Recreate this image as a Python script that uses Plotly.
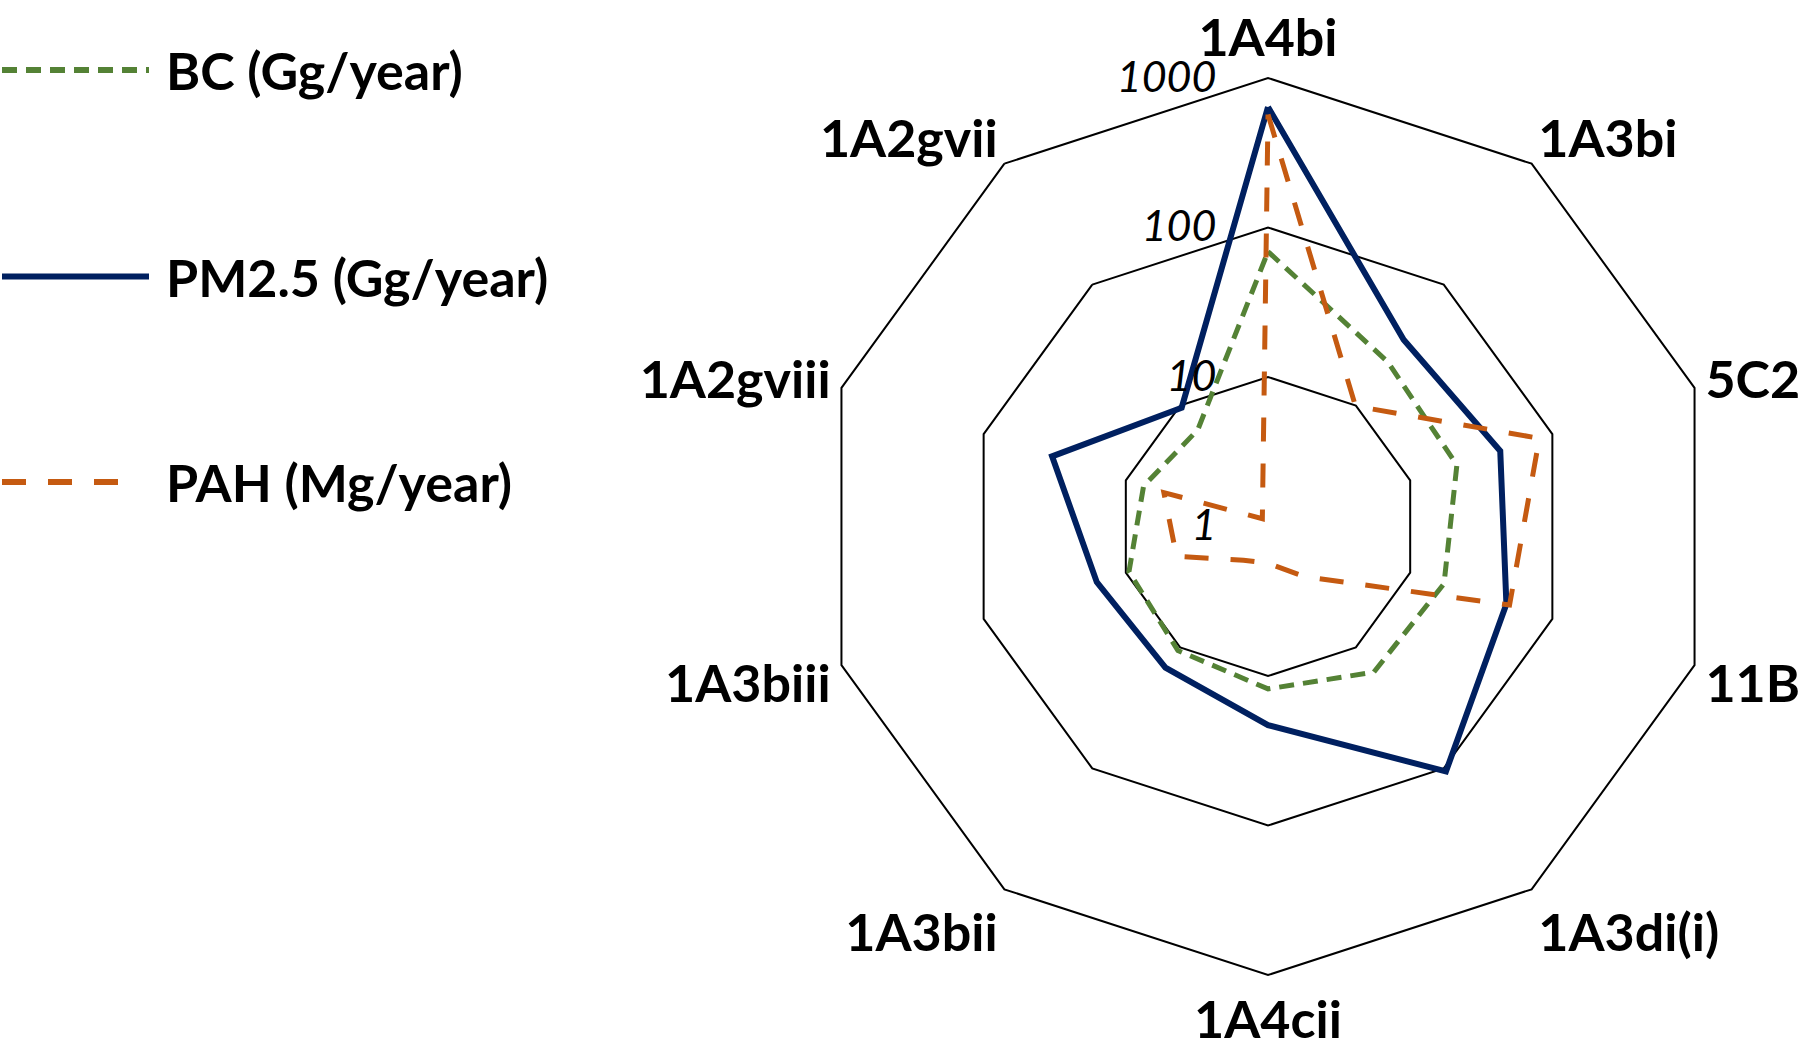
import plotly.graph_objects as go

# ---------------- data ----------------
categories = ["1A4bi", "1A3bi", "5C2", "11B", "1A3di(i)", "1A4cii",
              "1A3bii", "1A3biii", "1A2gviii", "1A2gvii"]
bc_values = [69, 23, 21.3, 17.3, 16, 12.2, 10.6, 9.5, 7.5, 6.3]
pm25_values = [640, 35, 43, 47.5, 106, 21.3, 14.7, 16, 33, 9.6]
pah_values = [570, 9.9, 81, 50, 2.6, 1.76, 1.9, 4.4, 5.4, 1.16]

series_names = ["BC (Gg/year)", "PM2.5 (Gg/year)", "PAH (Mg/year)"]
radial_tickvals = [1, 10, 100, 1000]
radial_ticktext = ["1", "10", "100", "1000"]

# ---------------- styles ----------------
GREEN = "#548235"
NAVY = "#002060"
ORANGE = "#C55A11"
FONT = "Lato"

W, H = 1800, 1047
cx, cy, R = 1268, 526.5, 448.5

def closed(v):
    return list(v) + [v[0]]

cats_closed = closed(categories)

fig = go.Figure()
styles = [
    (bc_values, GREEN, "15px,9px", 5),
    (pm25_values, NAVY, "solid", 6),
    (pah_values, ORANGE, "24px,22px", 5),
]
for name, (vals, col, dash, wid) in zip(series_names, styles):
    fig.add_trace(go.Scatterpolar(
        r=closed(vals), theta=cats_closed, mode="lines", name=name,
        line=dict(color=col, width=wid, dash=dash),
        showlegend=False, hoverinfo="skip"))

fig.update_layout(
    width=W, height=H,
    margin=dict(l=0, r=0, t=0, b=0),
    paper_bgcolor="white", plot_bgcolor="white",
    font=dict(family=FONT, color="black"),
    polar=dict(
        domain=dict(x=[(cx - R) / W, (cx + R) / W],
                    y=[(H - cy - R) / H, (H - cy + R) / H]),
        bgcolor="white",
        gridshape="linear",
        angularaxis=dict(
            type="category", direction="clockwise", rotation=90,
            showgrid=False, showline=True, linecolor="black", linewidth=2,
            ticks="outside", ticklen=0, tickcolor="rgba(0,0,0,0)",
            tickfont=dict(family=FONT, size=52, weight=700, color="black"),
        ),
        radialaxis=dict(
            type="log", range=[0, 3], angle=90, side="counterclockwise",
            tickmode="array", tickvals=radial_tickvals, ticktext=radial_ticktext,
            tickangle=90,
            showline=False, showgrid=True, gridcolor="black", gridwidth=2,
            ticks="outside", ticklen=36, tickcolor="rgba(0,0,0,0)",
            tickfont=dict(family=FONT, size=43, style="italic", color="black"),
        ),
    ),
)

# ---------------- legend (drawn) ----------------
legend_y_px = [70, 276.5, 482]
legend_x_end_px = [149, 149, 122]
legend_styles = [(GREEN, "15px,9px", 6), (NAVY, "solid", 6), (ORANGE, "24px,22px", 6)]
for name, ypx, xend, (col, dash, wid) in zip(series_names, legend_y_px, legend_x_end_px, legend_styles):
    yp = 1 - ypx / H
    fig.add_shape(type="line", xref="paper", yref="paper",
                  x0=2 / W, x1=xend / W, y0=yp, y1=yp,
                  line=dict(color=col, width=wid, dash=dash))
    fig.add_annotation(text=name, xref="paper", yref="paper",
                       x=164 / W, y=yp, xanchor="left", yanchor="middle",
                       showarrow=False,
                       font=dict(family=FONT, size=52, weight=700, color="black"))

fig.write_html("out.html", config={"displayModeBar": False},
               post_script="document.body.style.margin='0';")
